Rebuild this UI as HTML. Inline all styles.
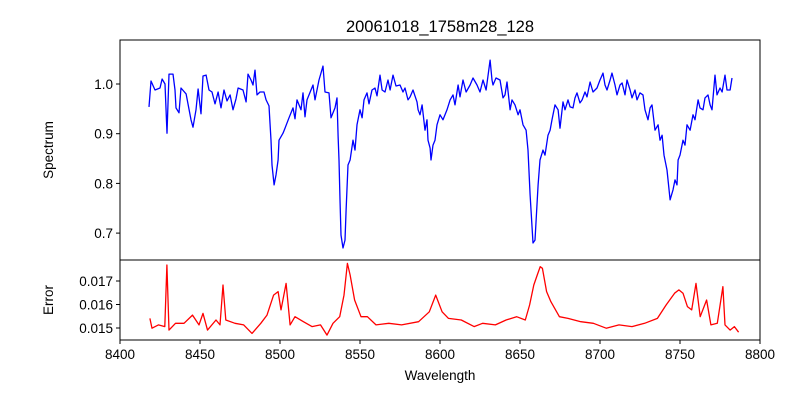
<!DOCTYPE html>
<html><head><meta charset="utf-8"><style>
body{margin:0;background:#fff}
svg{display:block;font-family:"Liberation Sans","DejaVu Sans",sans-serif}
</style></head><body>
<svg id="chart" width="800" height="400" viewBox="0 0 800 400">
<rect width="800" height="400" fill="#fff"/>
<text x="440" y="32" text-anchor="middle" font-size="16.5">20061018_1758m28_128</text>
<g id="topPanel"></g>
<g id="botPanel"></g>
<text x="0" y="0" transform="translate(53,150) rotate(-90)" text-anchor="middle" font-size="13.5">Spectrum</text>
<text x="0" y="0" transform="translate(53,300) rotate(-90)" text-anchor="middle" font-size="13.5">Error</text>
<text x="440" y="380" text-anchor="middle" font-size="13.5">Wavelength</text>
</svg>
<script>
const specWl=[8418.1,8419.4,8421.9,8425.0,8426.3,8428.1,8429.4,8430.6,8433.1,8434.4,8435.0,8436.9,8438.1,8441.3,8444.4,8445.6,8447.5,8448.8,8450.6,8451.9,8453.8,8455.6,8457.5,8459.4,8461.3,8463.1,8465.0,8466.9,8468.8,8470.6,8472.5,8473.8,8476.9,8478.8,8480.0,8481.9,8483.1,8484.4,8485.6,8487.5,8490.0,8491.3,8493.1,8494.4,8495.0,8496.3,8497.5,8498.8,8499.4,8501.9,8503.1,8505.6,8508.1,8509.4,8510.6,8513.1,8514.4,8515.6,8516.9,8520.6,8521.9,8524.4,8526.9,8528.1,8530.6,8531.9,8534.4,8535.6,8536.3,8536.9,8537.5,8538.1,8539.4,8540.6,8541.3,8542.5,
8543.8,8545.6,8546.9,8548.1,8550,8551.3,8552.5,8554.4,8555.6,8557.5,8559.4,8560.6,8562.5,8563.8,8565.6,8567.5,8568.8,8570.6,8572.5,8575,8576.9,8578.1,8580,8581.3,8583.1,8585.6,8586.3,8587.5,8588.8,8590.6,8591.9,8592.5,8593.8,8594.4,8595.6,8596.9,8598.1,8600,8601.9,8604.4,8606.3,8608.1,8609.4,8611.3,8612.5,8614.4,8616.3,8618.8,8620.6,8623.1,8625,8626.9,8628.8,8631.3,8632.5,8633.1,8635,8637.5,8639.4,8640.6,8641.9,8643.8,8645,8646.9,8648.8,8650,8651.9,8653.8,8655,8656.3,8658.1,8659.4,8661.3,8662.5,8664.4,8665.6,8667.5,8668.8,8670,8671.9,8673.8,8675,8676.9,8678.1,8680,8681.3,8683.1,8684.4,8685.6,8687.5,8688.8,8690.6,8691.9,8693.8,8695.6,8698.1,8700,8701.9,8703.1,8704.4,8706.3,8707.5,8709.4,8710.6,8712.5,8713.8,8715.6,8716.9,8718.8,8720,8721.9,8723.1,8725,8726.9,8728.1,8730,8731.3,8732.5,8734.4,8736.3,8737.5,8738.8,8740,8741.9,8743.8,8745.6,8746.9,8748.1,8748.8,8750,8751.9,8753.1,8754.4,8756.3,8758.1,8759.4,8761.3,8762.5,8764.4,8765.6,8767.5,8768.8,8770,8771.9,8773.1,8775,8776.3,8778.1,8779.4,8781.3,8782.5];
const specVal=[0.954,1.006,0.988,0.992,1.010,1.000,0.901,1.020,1.020,0.988,0.952,0.942,0.992,0.980,0.928,0.913,0.948,0.990,0.940,1.016,1.018,0.988,0.984,0.960,0.984,0.952,0.988,0.966,0.978,0.948,0.970,0.992,0.988,0.964,1.020,1.008,0.998,1.028,0.978,0.984,0.984,0.968,0.956,0.887,0.837,0.797,0.817,0.847,0.887,0.901,0.911,0.932,0.952,0.930,0.968,0.948,0.982,0.934,0.968,0.998,0.968,1.008,1.036,0.984,0.982,0.932,0.952,0.972,0.895,0.847,0.767,0.696,0.670,0.686,0.746,0.837,
0.847,0.887,0.867,0.918,0.948,0.932,0.968,0.982,0.960,0.988,0.992,0.976,1.018,0.988,0.984,1.008,0.988,1.018,0.996,0.998,0.984,0.992,0.968,0.974,0.988,0.964,0.948,0.938,0.958,0.907,0.928,0.887,0.871,0.847,0.877,0.887,0.918,0.938,0.928,0.948,0.968,0.978,0.958,0.998,0.974,1.008,0.984,0.998,1.012,0.998,0.984,1.008,0.988,1.048,1.008,0.998,1.012,1.008,0.972,0.978,1.004,0.948,0.968,0.958,0.938,0.948,0.918,0.907,0.867,0.777,0.680,0.686,0.797,0.847,0.867,0.857,0.897,0.907,0.928,0.958,0.948,0.911,0.964,0.948,0.968,0.954,0.952,0.972,0.982,0.962,0.968,0.984,0.974,1.004,0.984,0.992,1.008,1.022,0.998,0.988,1.008,1.022,0.998,0.978,0.998,1.002,0.978,1.008,0.988,0.972,0.988,0.968,0.982,0.978,0.948,0.928,0.952,0.958,0.907,0.918,0.887,0.897,0.857,0.827,0.767,0.787,0.807,0.797,0.847,0.857,0.887,0.877,0.918,0.907,0.938,0.928,0.968,0.952,0.948,0.972,0.978,0.958,0.948,1.018,0.978,0.992,0.984,1.018,0.988,0.988,1.012];
const errWl=[8418.7,8420,8424,8428,8429.3,8430.6,8434.7,8440,8445.3,8449.4,8451.9,8454.7,8460,8462.5,8464.4,8466.1,8471.9,8477.3,8482.5,8488,8491.9,8496,8498.8,8500.6,8503.8,8506.3,8509.4,8514.6,8520,8525.3,8529.4,8533.1,8537.3,8540,8542.1,8543.8,8546.6,8550.6,8554.6,8560,8568,8576,8586.6,8593.3,8597.3,8601.3,8605.3,8613.3,8621.3,8626.6,8634.6,8641.3,8647.9,8653.3,8656,8658.6,8660.8,8662.6,8664,8666.6,8669.3,8674.6,8680,8688,8695.9,8703.9,8711.9,8720,8727.9,8735.9,8741.3,8746.6,8749.3,8751.9,8754.6,8757.3,8760,8762.6,8766.6,8769.3,8773.3,8776.8,8778.1,8781.3,8784,8786.6];
const errVal=[0.01541,0.01499,0.01513,0.01506,0.01768,0.01491,0.01520,0.01520,0.01555,0.01513,0.01562,0.01491,0.01534,0.01513,0.01683,0.01534,0.01520,0.01513,0.01477,0.01520,0.01555,0.01640,0.01655,0.01577,0.01690,0.01513,0.01548,0.01527,0.01506,0.01513,0.01470,0.01520,0.01548,0.01640,0.01775,0.01726,0.01619,0.01548,0.01548,0.01513,0.01520,0.01513,0.01527,0.01569,0.01640,0.01569,0.01541,0.01534,0.01506,0.01520,0.01513,0.01534,0.01548,0.01534,0.01598,0.01683,0.01726,0.01761,0.01754,0.01655,0.01612,0.01548,0.01541,0.01527,0.01520,0.01499,0.01513,0.01506,0.01520,0.01541,0.01598,0.01648,0.01662,0.01648,0.01591,0.01577,0.01690,0.01548,0.01619,0.01513,0.01520,0.01676,0.01513,0.01491,0.01506,0.01482];
const xTicks=[8400,8450,8500,8550,8600,8650,8700,8750,8800];
const specTicks=[0.7,0.8,0.9,1.0];
const errTicks=[0.015,0.016,0.017];

const NS="http://www.w3.org/2000/svg";
const L=120,R=760;
const xs=v=>L+(v-8400)*(R-L)/400;
const ysTop=v=>84+(1.0-v)*497;
const ysBot=v=>328-(v-0.015)*23500;
function mk(p,tag,a){const e=document.createElementNS(NS,tag);for(const k in a)e.setAttribute(k,a[k]);p.appendChild(e);return e;}
const topG=document.getElementById('topPanel'),botG=document.getElementById('botPanel');

const pl1=mk(topG,'polyline',{points:specWl.map((w,i)=>xs(w).toFixed(1)+','+ysTop(specVal[i]).toFixed(1)).join(' '),fill:'none',stroke:'#0000ff','stroke-width':1.3,'stroke-linejoin':'round'});


const pl2=mk(botG,'polyline',{points:errWl.map((w,i)=>xs(w).toFixed(1)+','+ysBot(errVal[i]).toFixed(1)).join(' '),fill:'none',stroke:'#ff0000','stroke-width':1.3,'stroke-linejoin':'round'});



const f1=mk(topG,'rect',{x:L,y:40,width:R-L,height:220,fill:'none',stroke:'#000','stroke-width':1});


const f2=mk(botG,'rect',{x:L,y:260,width:R-L,height:80,fill:'none',stroke:'#000','stroke-width':1});



specTicks.forEach(t=>{const y=ysTop(t);
 mk(topG,'line',{x1:L-4,x2:L,y1:y,y2:y,stroke:'#000'});
 const tx=mk(topG,'text',{x:L-7,y:y+5,'text-anchor':'end','font-size':13.5});
 tx.textContent=t.toFixed(1);
 
 });
errTicks.forEach(t=>{const y=ysBot(t);
 mk(botG,'line',{x1:L-4,x2:L,y1:y,y2:y,stroke:'#000'});
 const tx=mk(botG,'text',{x:L-7,y:y+5,'text-anchor':'end','font-size':13.5});
 tx.textContent=t.toFixed(3);
 
 });
xTicks.forEach(t=>{const x=xs(t);
 mk(botG,'line',{x1:x,x2:x,y1:340,y2:344,stroke:'#000'});
 const tx=mk(botG,'text',{x:x,y:359,'text-anchor':'middle','font-size':13.5});
 tx.textContent=t;
 
 });
</script>
</body></html>
